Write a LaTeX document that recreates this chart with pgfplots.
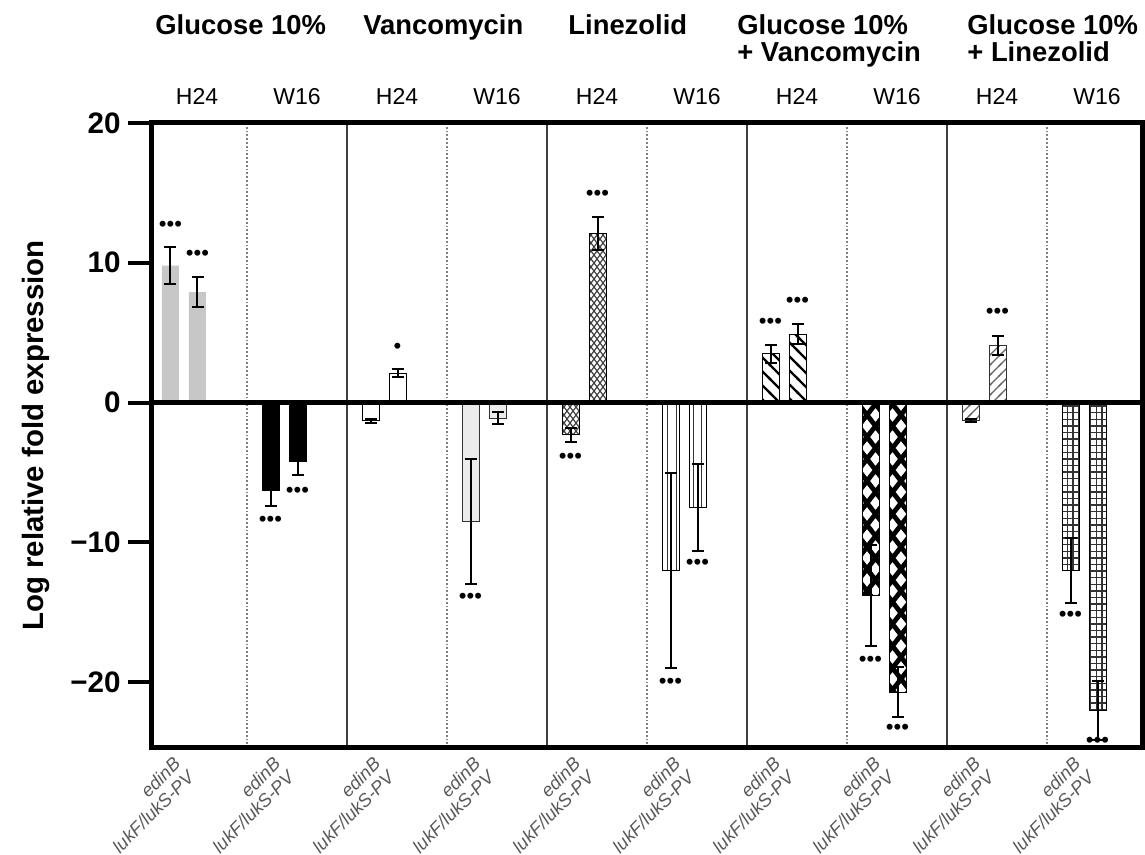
\documentclass[border=0pt]{standalone}
\usepackage{pgfplots}
\pgfplotsset{compat=1.18}
\usepackage{fontspec}
\setmainfont{Liberation Sans}
\usetikzlibrary{patterns}

% bar patterns
\pgfdeclarepatternformonly{bslash}{\pgfqpoint{-1pt}{-1pt}}{\pgfqpoint{8pt}{8pt}}{\pgfqpoint{7pt}{7pt}}{%
  \pgfsetlinewidth{1.1pt}%
  \pgfpathmoveto{\pgfqpoint{-1pt}{8pt}}\pgfpathlineto{\pgfqpoint{8pt}{-1pt}}\pgfusepath{stroke}}
\pgfdeclarepatternformonly{fslash}{\pgfqpoint{-1pt}{-1pt}}{\pgfqpoint{6pt}{6pt}}{\pgfqpoint{5pt}{5pt}}{%
  \pgfsetlinewidth{0.6pt}%
  \pgfpathmoveto{\pgfqpoint{-1pt}{-1pt}}\pgfpathlineto{\pgfqpoint{6pt}{6pt}}\pgfusepath{stroke}}
\pgfdeclarepatternformonly{vlines}{\pgfqpoint{-1pt}{-1pt}}{\pgfqpoint{5pt}{5pt}}{\pgfqpoint{4.2pt}{4.2pt}}{%
  \pgfsetlinewidth{0.5pt}%
  \pgfpathmoveto{\pgfqpoint{2.1pt}{-1pt}}\pgfpathlineto{\pgfqpoint{2.1pt}{5pt}}\pgfusepath{stroke}}
\pgfdeclarepatternformonly{gridsq}{\pgfqpoint{-1pt}{-1pt}}{\pgfqpoint{4pt}{4.3pt}}{\pgfqpoint{2.9pt}{3.3pt}}{%
  \pgfsetlinewidth{0.7pt}%
  \pgfpathmoveto{\pgfqpoint{0pt}{-1pt}}\pgfpathlineto{\pgfqpoint{0pt}{4.3pt}}%
  \pgfpathmoveto{\pgfqpoint{-1pt}{0pt}}\pgfpathlineto{\pgfqpoint{4pt}{0pt}}\pgfusepath{stroke}}
\pgfdeclarepatternformonly{finelattice}{\pgfqpoint{-0.5pt}{-0.5pt}}{\pgfqpoint{3.5pt}{4.5pt}}{\pgfqpoint{3pt}{4pt}}{%
  \pgfsetlinewidth{0.6pt}%
  \pgfpathmoveto{\pgfqpoint{0pt}{0pt}}\pgfpathlineto{\pgfqpoint{3pt}{4pt}}%
  \pgfpathmoveto{\pgfqpoint{0pt}{4pt}}\pgfpathlineto{\pgfqpoint{3pt}{0pt}}\pgfusepath{stroke}}
\pgfdeclarepatternformonly{thicklattice}{\pgfqpoint{-1.5pt}{-1.5pt}}{\pgfqpoint{10pt}{12.5pt}}{\pgfqpoint{8.5pt}{11pt}}{%
  \pgfsetlinewidth{2.4pt}%
  \pgfpathmoveto{\pgfqpoint{0pt}{0pt}}\pgfpathlineto{\pgfqpoint{8.5pt}{11pt}}%
  \pgfpathmoveto{\pgfqpoint{0pt}{11pt}}\pgfpathlineto{\pgfqpoint{8.5pt}{0pt}}\pgfusepath{stroke}}

\newcommand{\tri}{•••}
\newcommand{\one}{•}
\newcommand{\hdr}{\fontsize{13.7}{13.5}\selectfont\bfseries}
\newcommand{\sub}{\fontsize{11.5}{12}\selectfont}

\pgfplotsset{
  mybar/.style={ybar, bar width=0.17, bar shift=0pt, line width=0.5pt,
    error bars/.cd, y dir=both, y explicit, error mark=-,
    error bar style={line width=1pt, black, solid},
    error mark options={rotate=90, line width=1pt, black, mark size=3pt, solid}},
}

\begin{document}
\begin{tikzpicture}
\useasboundingbox (-75.85pt,-53.5pt) rectangle (496.65pt,374pt);
\begin{axis}[
  at={(0,0)}, anchor=south west,
  scale only axis, width=495.15pt, height=312.5pt,
  xmin=0.047, xmax=9.95, ymin=-24.7, ymax=20,
  clip=false, axis on top,
  axis line style={line width=2.5pt},
  ytick={-20,-10,0,10,20},
  yticklabels={−20,−10,0,10,20},
  ytick pos=left, tick align=outside,
  major tick length=12pt,
  ytick style={line width=2pt, black},
  yticklabel style={font=\fontsize{14.8}{15}\selectfont\bfseries},
  xtick={0.5,1.5,2.5,3.5,4.5,5.5,6.5,7.5,8.5,9.5},
  xticklabel={edinB\\lukF/lukS-PV},
  xtick style={draw=none},
  xticklabel style={rotate=45, anchor=east, align=right, xshift=0.5pt, yshift=6.3pt,
    font=\fontsize{9.2}{9.6}\selectfont\itshape, text=black!65},
]
% section separators
\pgfplotsinvokeforeach{2,4,6,8}{\draw[line width=1.1pt, black!75] (axis cs:#1,-24.7) -- (axis cs:#1,20);}
\pgfplotsinvokeforeach{1,3,5,7,9}{\draw[line width=0.9pt, gray, densely dotted] (axis cs:#1,-24.7) -- (axis cs:#1,20);}

% Glucose 10% H24
\addplot[fill=black!22, draw=none, mybar] table[x=x,y=y,y error=e]{
x y e
0.235 9.8 1.35
0.505 7.9 1.05
};
% Glucose 10% W16
\addplot[fill=black, draw=black, mybar] table[x=x,y=y,y error=e]{
x y e
1.235 -6.3 1.1
1.505 -4.2 1.0
};
% Vancomycin H24
\addplot[fill=white, draw=black, mybar] table[x=x,y=y,y error=e]{
x y e
2.235 -1.3 0.15
2.505 2.1 0.3
};
% Vancomycin W16
\addplot[fill=black!8, draw=black!80, mybar] table[x=x,y=y,y error=e]{
x y e
3.235 -8.5 4.5
3.505 -1.1 0.4
};
% Linezolid H24
\addplot[pattern=finelattice, pattern color=black!75, draw=black, mybar] table[x=x,y=y,y error=e]{
x y e
4.235 -2.3 0.5
4.505 12.1 1.2
};
% Linezolid W16
\addplot[pattern=vlines, pattern color=black!80, draw=black, mybar] table[x=x,y=y,y error=e]{
x y e
5.235 -12.0 7.0
5.505 -7.5 3.1
};
% Glucose 10% + Vancomycin H24
\addplot[pattern=bslash, pattern color=black, draw=black, mybar] table[x=x,y=y,y error=e]{
x y e
6.235 3.5 0.65
6.505 4.9 0.7
};
% Glucose 10% + Vancomycin W16
\addplot[pattern=thicklattice, pattern color=black, draw=black, mybar] table[x=x,y=y,y error=e]{
x y e
7.235 -13.8 3.6
7.505 -20.7 1.8
};
% Glucose 10% + Linezolid H24
\addplot[pattern=fslash, pattern color=black!60, draw=black!80, mybar] table[x=x,y=y,y error=e]{
x y e
8.235 -1.3 0.1
8.505 4.1 0.7
};
% Glucose 10% + Linezolid W16
\addplot[pattern=gridsq, pattern color=black!80, draw=black, mybar] table[x=x,y=y,y error=e]{
x y e
9.235 -12.0 2.3
9.505 -22.0 2.1
};

% significance marks
\addplot[only marks, mark=none, nodes near coords, point meta=explicit symbolic,
  every node near coord/.style={anchor=center, inner sep=0pt, font=\fontsize{11}{11}\selectfont}]
  table[x=x,y=y,meta=t]{
x y t
0.235 12.6 \tri
0.505 10.5 \tri
1.235 -8.5 \tri
1.505 -6.4 \tri
2.505 3.85 \one
3.235 -14.0 \tri
4.235 -4.0 \tri
4.505 14.8 \tri
5.235 -20.1 \tri
5.505 -11.6 \tri
6.235 5.65 \tri
6.505 7.15 \tri
7.235 -18.5 \tri
7.505 -23.4 \tri
8.505 6.35 \tri
9.235 -15.3 \tri
9.505 -24.3 \tri
};

% zero line
\draw[line width=2.5pt] (axis cs:0.047,0) -- (axis cs:9.95,0);

% group headers
\node[anchor=base west, inner sep=0pt, font=\hdr, yshift=44pt] at (axis cs:0.08,20) {Glucose 10\%};
\node[anchor=base west, inner sep=0pt, font=\hdr, yshift=44pt] at (axis cs:2.16,20) {Vancomycin};
\node[anchor=base west, inner sep=0pt, font=\hdr, yshift=44pt] at (axis cs:4.21,20) {Linezolid};
\node[anchor=base west, inner sep=0pt, font=\hdr, yshift=44pt] at (axis cs:5.90,20) {Glucose 10\%};
\node[anchor=base west, inner sep=0pt, font=\hdr, yshift=30.5pt] at (axis cs:5.90,20) {+ Vancomycin};
\node[anchor=base west, inner sep=0pt, font=\hdr, yshift=44pt] at (axis cs:8.20,20) {Glucose 10\%};
\node[anchor=base west, inner sep=0pt, font=\hdr, yshift=30.5pt] at (axis cs:8.20,20) {+ Linezolid};
% time points
\pgfplotsinvokeforeach{0.5,2.5,4.5,6.5,8.5}{\node[anchor=base, font=\sub, yshift=9pt] at (axis cs:#1,20) {H24};}
\pgfplotsinvokeforeach{1.5,3.5,5.5,7.5,9.5}{\node[anchor=base, font=\sub, yshift=9pt] at (axis cs:#1,20) {W16};}

% y axis title
\node[xshift=-58pt, rotate=90, anchor=center, font=\fontsize{14.7}{15}\selectfont\bfseries]
  at (rel axis cs:0,0.5) {Log relative fold expression};
\end{axis}
\end{tikzpicture}
\end{document}
